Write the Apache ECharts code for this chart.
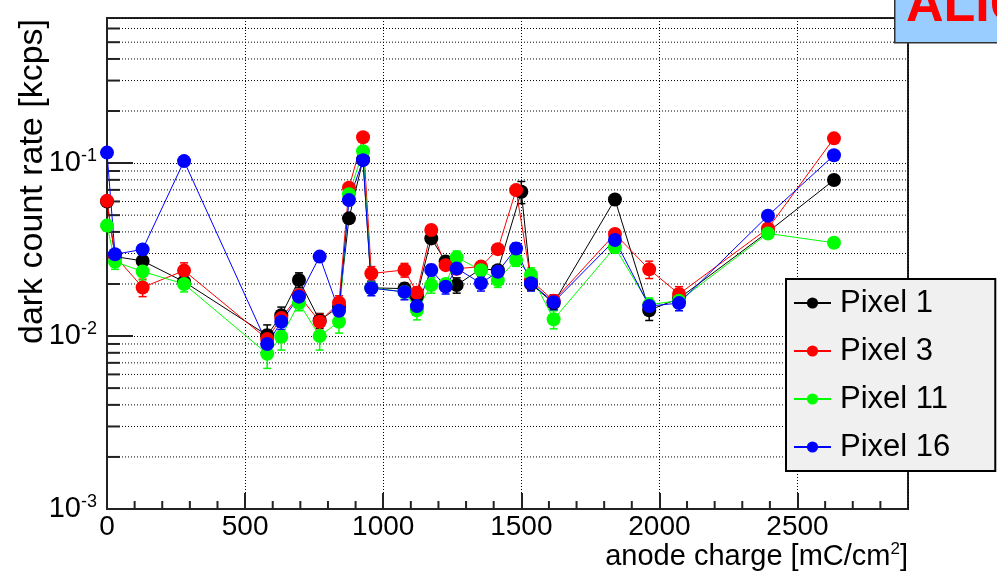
<!DOCTYPE html>
<html><head><meta charset="utf-8">
<script src="https://cdn.jsdelivr.net/npm/echarts@6/dist/echarts.min.js"></script>
<style>html,body{margin:0;padding:0;background:#fff}#c{width:997px;height:573px}</style>
</head><body><div id="c"></div>
<script>
// ---- data ----
const seriesNames = ['Pixel 1', 'Pixel 3', 'Pixel 11', 'Pixel 16'];
const seriesColors = ['#000000', '#ff0000', '#00ff00', '#0000ff'];
const charge = [0, 29, 129, 279, 580, 631, 695, 770, 840, 876, 927, 957, 1077, 1122, 1174, 1226, 1266, 1354, 1415, 1481, 1535, 1617, 1839, 1963, 2071, 2393, 2632];
const chargePixel1 = [0, 29, 129, 279, 580, 631, 695, 770, 840, 876, 927, 957, 1077, 1122, 1174, 1226, 1266, 1354, 1415, 1500, 1535, 1617, 1839, 1963, 2071, 2393, 2632];
const ratePixel1 = [0.060, 0.0288, 0.0272, 0.0206, 0.0101, 0.0132, 0.0211, 0.0123, 0.0148, 0.0479, 0.105, 0.0190, 0.0188, 0.0170, 0.0367, 0.0270, 0.0197, 0.0245, 0.0240, 0.0683, 0.0200, 0.0155, 0.0616, 0.0141, 0.0165, 0.0400, 0.0798];
const errPixel1  = [0.003, 0.0015, 0.0014, 0.0012, 0.0015, 0.0015, 0.0021, 0.0012, 0.0013, 0.003, 0.006, 0.0012, 0.0014, 0.0012, 0.0020, 0.0016, 0.0020, 0.0014, 0.0014, 0.010, 0.0015, 0.0013, 0.003, 0.0018, 0.0012, 0.002, 0.004];
const ratePixel3 = [0.0605, 0.0290, 0.0191, 0.0239, 0.0096, 0.0127, 0.0172, 0.0121, 0.0156, 0.072, 0.141, 0.0230, 0.0241, 0.0178, 0.0410, 0.0257, 0.0245, 0.0252, 0.0318, 0.0698, 0.0210, 0.0160, 0.0389, 0.0243, 0.0175, 0.0419, 0.139];
const errPixel3  = [0.003, 0.0015, 0.0022, 0.0026, 0.0012, 0.0013, 0.0012, 0.0013, 0.0015, 0.004, 0.007, 0.0022, 0.0022, 0.0014, 0.0025, 0.0016, 0.0014, 0.0016, 0.0018, 0.004, 0.0014, 0.0013, 0.0025, 0.0028, 0.0018, 0.002, 0.006];
const ratePixel11 = [0.0435, 0.0269, 0.0236, 0.0200, 0.0079, 0.0099, 0.0155, 0.0100, 0.0121, 0.066, 0.117, 0.0190, 0.0180, 0.0141, 0.0197, 0.0200, 0.0285, 0.0240, 0.0211, 0.0275, 0.0226, 0.0125, 0.0326, 0.0152, 0.0160, 0.0392, 0.0346];
const errPixel11  = [0.003, 0.0026, 0.0025, 0.0020, 0.0014, 0.0016, 0.0015, 0.0017, 0.0017, 0.004, 0.006, 0.0013, 0.0013, 0.0017, 0.0020, 0.0014, 0.0025, 0.0016, 0.0020, 0.0022, 0.0022, 0.0015, 0.0020, 0.0014, 0.0012, 0.002, 0.0018];
const ratePixel16 = [0.115, 0.0297, 0.0317, 0.1027, 0.0090, 0.0121, 0.0169, 0.0288, 0.0140, 0.0611, 0.104, 0.0189, 0.0180, 0.0149, 0.0241, 0.0193, 0.0246, 0.0202, 0.0235, 0.0321, 0.0202, 0.0157, 0.0359, 0.0149, 0.0155, 0.0496, 0.111];
const errPixel16  = [0.005, 0.0016, 0.0018, 0.005, 0.0013, 0.0012, 0.0012, 0.0015, 0.0014, 0.003, 0.005, 0.0018, 0.0018, 0.0016, 0.0018, 0.0018, 0.0016, 0.0020, 0.0020, 0.0024, 0.0020, 0.0015, 0.0022, 0.0013, 0.0015, 0.002, 0.005];
const xTickLabels = ['0', '500', '1000', '1500', '2000', '2500'];
const yTickExponents = [-3, -2, -1];
const xMinorTicks = [100, 200, 300, 400, 600, 700, 800, 900, 1100, 1200, 1300, 1400, 1600, 1700, 1800, 1900, 2100, 2200, 2300, 2400, 2600, 2700, 2800];
const yMinorTicks = [0.002, 0.003, 0.004, 0.005, 0.006, 0.007, 0.008, 0.009, 0.02, 0.03, 0.04, 0.05, 0.06, 0.07, 0.08, 0.09, 0.2, 0.3, 0.4, 0.5, 0.6];
const xTitle = 'anode charge [mC/cm{sup|2}]';
const yTitle = 'dark count rate [kcps]';
const badgeText = 'ALICE';

// ---- chart ----
const xs = [chargePixel1, charge, charge, charge];
const ys = [ratePixel1, ratePixel3, ratePixel11, ratePixel16];
const es = [errPixel1, errPixel3, errPixel11, errPixel16];
const FONT = '"Liberation Sans", Arial, Helvetica, sans-serif';
const chart = echarts.init(document.getElementById('c'), null, {renderer: 'canvas'});

function errRender(color) {
  return function (params, api) {
    const x = api.value(0), v = api.value(1), e = api.value(2);
    const lo = api.coord([x, v - e]), hi = api.coord([x, v + e]);
    const cap = 4;
    const style = {stroke: color, lineWidth: 1.5};
    return {type: 'group', children: [
      {type: 'line', shape: {x1: lo[0], y1: lo[1], x2: hi[0], y2: hi[1]}, style: style},
      {type: 'line', shape: {x1: lo[0] - cap, y1: lo[1], x2: lo[0] + cap, y2: lo[1]}, style: style},
      {type: 'line', shape: {x1: hi[0] - cap, y1: hi[1], x2: hi[0] + cap, y2: hi[1]}, style: style}
    ]};
  };
}

const series = [];
// minor y gridlines + ticks
series.push({
  type: 'custom', silent: true, z: 1, animation: false,
  data: yMinorTicks.map(v => [0, v]),
  encode: {x: 0, y: 1},
  renderItem: function (params, api) {
    const cs = params.coordSys;
    const p = api.coord([0, api.value(1)]);
    return {type: 'group', children: [
      {type: 'line', shape: {x1: cs.x, y1: p[1], x2: cs.x + cs.width, y2: p[1]}, style: {stroke: '#000', lineWidth: 1, lineDash: [1, 2]}},
      {type: 'line', shape: {x1: cs.x, y1: p[1], x2: cs.x + 13, y2: p[1]}, style: {stroke: '#222', lineWidth: 2}}
    ]};
  }
});
// minor x ticks
series.push({
  type: 'custom', silent: true, z: 1, animation: false,
  data: xMinorTicks.map(v => [v, 0.001]),
  encode: {x: 0, y: 1},
  renderItem: function (params, api) {
    const cs = params.coordSys;
    const p = api.coord([api.value(0), 0.001]);
    const yb = cs.y + cs.height;
    return {type: 'line', shape: {x1: p[0], y1: yb, x2: p[0], y2: yb - 8}, style: {stroke: '#222', lineWidth: 2}};
  }
});
for (let i = 0; i < 4; i++) {
  series.push({
    type: 'custom', silent: true, z: 2, animation: false,
    data: xs[i].map((x, j) => [x, ys[i][j], es[i][j]]),
    encode: {x: 0, y: 1},
    renderItem: errRender(seriesColors[i])
  });
}
for (let i = 0; i < 4; i++) {
  series.push({
    name: seriesNames[i], type: 'line', z: 3, animation: false, silent: true,
    data: xs[i].map((x, j) => [x, ys[i][j]]),
    symbol: 'circle', symbolSize: 14,
    itemStyle: {color: seriesColors[i]},
    lineStyle: {color: seriesColors[i], width: 1}
  });
}

chart.setOption({
  animation: false,
  backgroundColor: '#ffffff',
  textStyle: {fontFamily: FONT},
  grid: {left: 107, top: 18, right: 89, bottom: 64, show: true, borderColor: '#222', borderWidth: 2,
    backgroundColor: 'transparent', containLabel: false, outerBoundsMode: 'none'},
  legend: {
    data: seriesNames, orient: 'vertical', left: 786, top: 279,
    padding: [6, 45, 6, 7], itemGap: 12, itemWidth: 37, itemHeight: 14,
    backgroundColor: '#f0f0f0', borderColor: '#000', borderWidth: 2, borderRadius: 0,
    selectedMode: false,
    textStyle: {fontFamily: FONT, fontSize: 31, color: '#000', lineHeight: 36, padding: [0, 0, 0, 4]}
  },
  xAxis: {
    type: 'value', min: 0, max: 2900, interval: 500,
    name: xTitle, nameLocation: 'end', nameGap: 0, nameMoveOverlap: false,
    nameTextStyle: {fontFamily: FONT, fontSize: 29, color: '#000', align: 'right', verticalAlign: 'top', padding: [32, 0, 0, 0],
      rich: {sup: {fontSize: 17, verticalAlign: 'top', padding: [0, 0, 14, 0], fontFamily: FONT, color: '#000'}}},
    axisLine: {show: true, onZero: false, lineStyle: {color: '#222', width: 2}},
    axisTick: {show: true, inside: true, length: 16, lineStyle: {color: '#222', width: 2}},
    axisLabel: {fontFamily: FONT, fontSize: 28, color: '#000', margin: 4, showMaxLabel: false,
      formatter: function (v) { const s = String(Math.round(v)); return xTickLabels.indexOf(s) >= 0 ? s : ''; }},
    splitLine: {show: true, lineStyle: {color: '#000', width: 1, type: [1, 2]}}
  },
  yAxis: {
    type: 'log', logBase: 10, min: 0.001, max: 0.69,
    name: yTitle, nameLocation: 'middle', nameRotate: 90, nameGap: 57, nameMoveOverlap: false,
    nameTextStyle: {fontFamily: FONT, fontSize: 34, color: '#000', padding: [0, 0, 0, 164]},
    axisLine: {show: true, lineStyle: {color: '#222', width: 2}},
    axisTick: {show: true, inside: true, length: 26, lineStyle: {color: '#222', width: 2}},
    axisLabel: {fontFamily: FONT, color: '#000', margin: 10, showMaxLabel: false,
      formatter: function (v) {
        const e = Math.round(Math.log10(v));
        if (Math.abs(Math.log10(v) - e) > 1e-6 || yTickExponents.indexOf(e) < 0) return '';
        return '{b|10}{s|' + e + '}';
      },
      rich: {b: {fontSize: 29, fontFamily: FONT, color: '#000', lineHeight: 32},
             s: {fontSize: 18, fontFamily: FONT, color: '#000', verticalAlign: 'top', padding: [0, 0, 12, 0]}}},
    splitLine: {show: true, lineStyle: {color: '#000', width: 1, type: [1, 2]}}
  },
  graphic: [
    {type: 'rect', left: 894, top: -4, shape: {width: 110, height: 46}, z: 100,
     style: {fill: '#99ccff', stroke: '#333', lineWidth: 1.5}},
    {type: 'text', x: 906, y: 7, z: 101,
     style: {text: badgeText, fill: '#ff0000', font: 'bold 52px ' + FONT, verticalAlign: 'middle', align: 'left'}}
  ],
  series: series
});
</script></body></html>
